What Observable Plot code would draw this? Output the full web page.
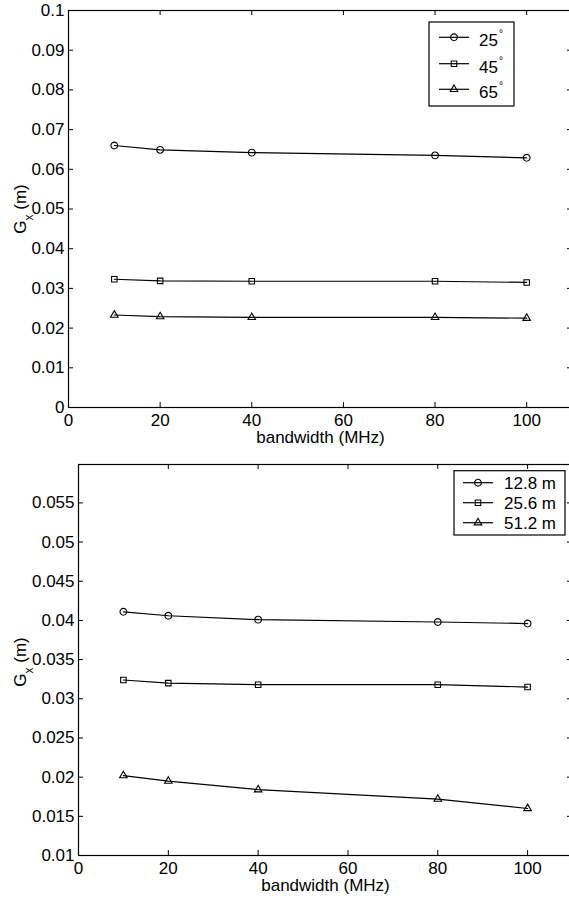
<!DOCTYPE html>
<html><head><meta charset="utf-8">
<script src="https://cdn.jsdelivr.net/npm/d3@7"></script>
<script src="https://cdn.jsdelivr.net/npm/@observablehq/plot@0.6"></script>
<style>
body{margin:0;background:#fff;}
#wrap{width:569px;height:903px;overflow:hidden;position:relative;background:#fff;}
#wrap svg{display:block;max-width:none !important;}
</style></head><body><div id="wrap"></div>
<script>
// ---- data ----
const bandwidth = [10, 20, 40, 80, 100];
const angleLabels = ["25", "45", "65"];
const gx25 = [0.0660, 0.0649, 0.0642, 0.0635, 0.0629];
const gx45 = [0.0323, 0.0319, 0.0318, 0.0318, 0.0315];
const gx65 = [0.0233, 0.0229, 0.0227, 0.0227, 0.0225];
const lengthLabels = ["12.8 m", "25.6 m", "51.2 m"];
const gx128 = [0.0411, 0.0406, 0.0401, 0.0398, 0.0396];
const gx256 = [0.0324, 0.0320, 0.0318, 0.0318, 0.0315];
const gx512 = [0.0202, 0.0195, 0.0184, 0.0172, 0.0160];
const xTicks = [0, 20, 40, 60, 80, 100];
const yTicksTop = [0, 0.01, 0.02, 0.03, 0.04, 0.05, 0.06, 0.07, 0.08, 0.09, 0.1];
const yTicksBottom = [0.01, 0.015, 0.02, 0.025, 0.03, 0.035, 0.04, 0.045, 0.05, 0.055];
const symbols = ["circle", "square", "triangle"];
const symbolR = [3.4, 3.1, 2.8];
const xLabel = "bandwidth (MHz)";

const FONT = "Liberation Sans, Arial, Helvetica, sans-serif";
const wrap = document.getElementById("wrap");

function makePanel(cfg) {
  const {seriesValues, labels, yDomain, yTicks, marginLeft, marginTop, marginBottom, height} = cfg;
  const width = 573, marginRight = 1;
  const plotH = height - marginTop - marginBottom;
  const plotW = width - marginLeft - marginRight;
  const rows = [];
  seriesValues.forEach((vals, s) => vals.forEach((v, i) => rows.push({x: bandwidth[i], y: v, s})));
  const fmt = d => String(+d.toFixed(4));
  const marks = [
    Plot.ruleX(xTicks, {x: d => d, insetTop: plotH - 5, stroke: "black"}),
    Plot.ruleX(xTicks, {x: d => d, insetBottom: plotH - 5, stroke: "black"}),
    Plot.ruleY(yTicks, {y: d => d, insetRight: plotW - 5, stroke: "black"}),
    Plot.ruleY(yTicks, {y: d => d, insetLeft: plotW - 5, stroke: "black"}),
    Plot.axisX({ticks: xTicks, tickSize: 0, tickPadding: 6, tickFormat: d => String(d), label: null}),
    Plot.axisY({ticks: yTicks, tickSize: 0, tickPadding: 4, tickFormat: fmt, label: null}),
    Plot.line(rows, {x: "x", y: "y", z: "s", stroke: "black", strokeWidth: 1.2})
  ];
  seriesValues.forEach((vals, s) => {
    marks.push(Plot.dot(rows.filter(d => d.s === s), {x: "x", y: "y", symbol: () => symbols[s], r: symbolR[s], stroke: "black", fill: "none", strokeWidth: 1.1}));
  });
  marks.push(Plot.frame({stroke: "black", strokeWidth: 1.2}));
  marks.push(Plot.text([xLabel], {text: d => d, frameAnchor: "bottom", dy: 35, fill: "black"}));
  const svg = Plot.plot({
    width, height, marginLeft, marginRight, marginTop, marginBottom,
    x: {domain: [0, 110]},
    y: {domain: yDomain},
    style: {fontFamily: FONT, fontSize: "17px", color: "black", background: "white", overflow: "visible", maxWidth: "none"},
    marks
  });
  svg.style.maxWidth = "none";
  const sel = d3.select(svg);
  // y label with subscript
  const yl = sel.append("text")
    .attr("transform", `translate(26,${cfg.yLabelY}) rotate(-90)`)
    .attr("text-anchor", "middle")
    .attr("font-family", FONT).attr("font-size", 17).attr("fill", "black");
  yl.append("tspan").text("G");
  yl.append("tspan").attr("font-size", 12).attr("dy", 7).text("x");
  yl.append("tspan").attr("dy", -7).text(" (m)");
  // legend
  const L = cfg.legend;
  const g = sel.append("g").attr("font-family", FONT).attr("font-size", 17).attr("text-anchor", "start");
  g.append("rect").attr("x", L.x0).attr("y", L.y0).attr("width", L.x1 - L.x0).attr("height", L.y1 - L.y0)
    .attr("fill", "white").attr("stroke", "black").attr("stroke-width", 1.2);
  labels.forEach((lab, s) => {
    const y = L.rows[s];
    g.append("line").attr("x1", L.lx0).attr("x2", L.lx1).attr("y1", y).attr("y2", y).attr("stroke", "black").attr("stroke-width", 1.2);
    g.append("path").attr("transform", `translate(${L.mx},${y})`)
      .attr("d", d3.symbol(d3["symbol" + symbols[s][0].toUpperCase() + symbols[s].slice(1)], symbolR[s] * symbolR[s] * Math.PI)())
      .attr("fill", "none").attr("stroke", "black").attr("stroke-width", 1.1);
    const t = g.append("text").attr("x", L.tx).attr("y", y + L.textDy).attr("fill", "black").attr("text-anchor", "start");
    t.append("tspan").text(lab);
    if (L.degree) t.append("tspan").attr("font-size", 10).attr("dy", -9).attr("dx", 1).text("°");
  });
  return svg;
}

wrap.appendChild(makePanel({
  seriesValues: [gx25, gx45, gx65], labels: angleLabels,
  yDomain: [0, 0.1], yTicks: yTicksTop,
  marginLeft: 68, marginTop: 10, marginBottom: 43, height: 450,
  yLabelY: 209,
  legend: {x0: 429, y0: 22, x1: 514, y1: 106, rows: [37.3, 63.7, 89.3], lx0: 439, lx1: 469, mx: 454, tx: 479, textDy: 9, degree: true}
}));
wrap.appendChild(makePanel({
  seriesValues: [gx128, gx256, gx512], labels: lengthLabels,
  yDomain: [0.01, 0.0599], yTicks: yTicksBottom,
  marginLeft: 78, marginTop: 14, marginBottom: 48, height: 453,
  yLabelY: 212,
  legend: {x0: 454, y0: 20.7, x1: 565, y1: 85, rows: [32.7, 52.7, 72.7], lx0: 463, lx1: 493, mx: 478, tx: 504, textDy: 6, degree: false}
}));
</script>
</body></html>
